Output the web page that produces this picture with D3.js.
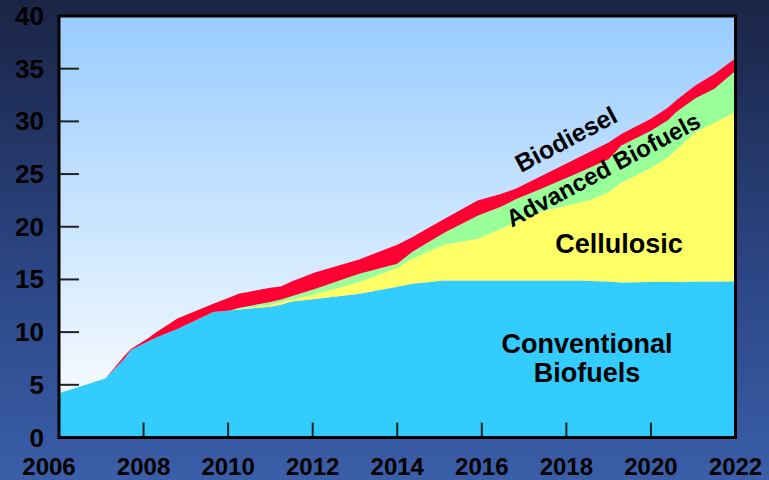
<!DOCTYPE html>
<html>
<head>
<meta charset="utf-8">
<script src="https://cdn.jsdelivr.net/npm/d3@7/dist/d3.min.js"></script>
<style>
  html, body { margin: 0; padding: 0; background: #1b2547; }
  svg { display: block; }
  text { font-family: "Liberation Sans", Arial, sans-serif; font-weight: bold; fill: #000; }
</style>
</head>
<body>
<svg id="chart" width="769" height="480"></svg>
<script>
// ---- Data (billion gallons) ----
const years = [2006, 2007.1, 2007.55, 2007.7, 2008.1, 2008.3, 2008.8, 2009.65, 2010.05, 2010.25,
  2011, 2011.25, 2011.5, 2012.05, 2013.1, 2014, 2014.35, 2015.1, 2015.9, 2016.45,
  2016.8, 2017.35, 2018.3, 2018.55, 2019, 2019.3, 2020, 2020.4, 2020.6, 2021.05, 2021.5, 2022];
const conventional = [4.2, 5.6, 7.5, 8.3, 9.1, 9.5, 10.3, 11.9, 12.05, 12.15,
  12.4, 12.6, 12.9, 13.15, 13.65, 14.3, 14.6, 14.9, 14.9, 14.9,
  14.9, 14.9, 14.9, 14.85, 14.8, 14.7, 14.75, 14.75, 14.75, 14.8, 14.8, 14.8];
const cellulosic = [0, 0, 0, 0, 0, 0, 0, 0, 0, 0.05,
  0.2, 0.25, 0.2, 0.45, 1.1, 1.8, 2.35, 3.4, 3.95, 4.9,
  5.55, 6.5, 7.4, 7.7, 8.5, 9.5, 10.85, 11.85, 12.55, 14.2, 15.1, 16.1];
const advanced = [0, 0, 0, 0, 0, 0, 0, 0, 0, 0.1,
  0.25, 0.25, 0.3, 0.5, 0.8, 0.4, 0.65, 1.1, 2.2, 2.1,
  2.15, 2.1, 2.85, 3.05, 3.1, 3.5, 3.5, 3.5, 3.6, 3.2, 3.2, 3.9];
const biodiesel = [0, 0, 0.25, 0.1, 0.3, 0.5, 1.0, 0.8, 1.25, 1.35,
  1.35, 1.23, 1.4, 1.55, 1.35, 1.8, 1.4, 1.3, 1.45, 1.2,
  1.0, 1.2, 1.45, 1.5, 1.6, 1.1, 1.15, 1.2, 1.1, 1.2, 1.4, 1.2];
const xTicks = [2006, 2008, 2010, 2012, 2014, 2016, 2018, 2020, 2022];
const yTicks = [0, 5, 10, 15, 20, 25, 30, 35, 40];
const seriesNames = ["Conventional", "Cellulosic", "Advanced", "Biodiesel"];
const seriesColors = ["#33ccff", "#ffff66", "#99ff99", "#ff0033"];

// ---- Layout ----
const W = 769, H = 480;
const plot = { left: 59, right: 735.5, top: 16, bottom: 437.5 };

const svg = d3.select("#chart");
const defs = svg.append("defs");

const bgGrad = defs.append("linearGradient").attr("id", "bgGrad")
  .attr("x1", "0").attr("y1", "0").attr("x2", "0").attr("y2", "1");
bgGrad.append("stop").attr("offset", "0%").attr("stop-color", "#1a2445");
bgGrad.append("stop").attr("offset", "60%").attr("stop-color", "#2c4888");
bgGrad.append("stop").attr("offset", "100%").attr("stop-color", "#3a5ea8");

const plotGrad = defs.append("linearGradient").attr("id", "plotGrad")
  .attr("x1", "0").attr("y1", "0").attr("x2", "0").attr("y2", "1");
plotGrad.append("stop").attr("offset", "0%").attr("stop-color", "#99ccff");
plotGrad.append("stop").attr("offset", "100%").attr("stop-color", "#ffffff");

svg.append("rect").attr("width", W).attr("height", H).attr("fill", "url(#bgGrad)");

const x = d3.scaleLinear().domain([2006, 2022]).range([plot.left, plot.right]);
const y = d3.scaleLinear().domain([0, 40]).range([plot.bottom, plot.top]);

svg.append("rect")
  .attr("x", plot.left).attr("y", plot.top)
  .attr("width", plot.right - plot.left).attr("height", plot.bottom - plot.top)
  .attr("fill", "url(#plotGrad)");

// ---- Stacked areas ----
const table = years.map((yr, i) => ({
  year: yr,
  Conventional: conventional[i],
  Cellulosic: cellulosic[i],
  Advanced: advanced[i],
  Biodiesel: biodiesel[i]
}));
const stacked = d3.stack().keys(seriesNames)(table);
const area = d3.area()
  .x(d => x(d.data.year))
  .y0(d => y(d[0]))
  .y1(d => y(d[1]));

svg.append("g").selectAll("path")
  .data(stacked)
  .join("path")
  .attr("d", area)
  .attr("fill", (d, i) => seriesColors[i]);

// ---- Ticks ----
const tickG = svg.append("g").attr("stroke", "#222").attr("stroke-width", 2);
tickG.selectAll(".yt").data(yTicks.filter(t => t > 0 && t < 40)).join("line")
  .attr("x1", plot.left).attr("x2", plot.left + 20)
  .attr("y1", d => y(d)).attr("y2", d => y(d));
tickG.selectAll(".xt").data(xTicks.filter(t => t > 2006 && t < 2022)).join("line")
  .attr("x1", d => x(d)).attr("x2", d => x(d))
  .attr("y1", plot.bottom).attr("y2", plot.bottom - 15);

// ---- Frame ----
svg.append("rect")
  .attr("x", plot.left).attr("y", plot.top)
  .attr("width", plot.right - plot.left).attr("height", plot.bottom - plot.top)
  .attr("fill", "none").attr("stroke", "#000").attr("stroke-width", 3);

// ---- Axis labels ----
svg.append("g").selectAll("text").data(yTicks).join("text")
  .attr("x", 44).attr("y", d => y(d) + 9)
  .attr("text-anchor", "end")
  .attr("font-size", 26)
  .text(d => d);

svg.append("g").selectAll("text").data(xTicks).join("text")
  .attr("x", d => x(d) + (d === 2006 ? -10 : 0))
  .attr("y", 475)
  .attr("text-anchor", "middle")
  .attr("font-size", 24)
  .text(d => d);

// ---- Series labels ----
svg.append("text").attr("x", 587).attr("y", 353).attr("text-anchor", "middle")
  .attr("font-size", 27).text("Conventional");
svg.append("text").attr("x", 587).attr("y", 382).attr("text-anchor", "middle")
  .attr("font-size", 27).text("Biofuels");
svg.append("text").attr("x", 619).attr("y", 253).attr("text-anchor", "middle")
  .attr("font-size", 27).text("Cellulosic");
svg.append("text").attr("text-anchor", "middle").attr("font-size", 25)
  .attr("transform", "translate(570,147) rotate(-28)").text("Biodiesel");
svg.append("text").attr("text-anchor", "middle").attr("font-size", 24)
  .attr("transform", "translate(607,177) rotate(-28)").text("Advanced Biofuels");
</script>
</body>
</html>
